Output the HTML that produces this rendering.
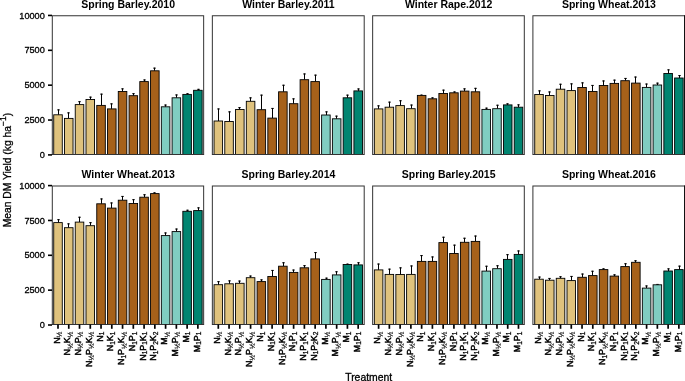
<!DOCTYPE html>
<html><head><meta charset="utf-8"><title>Mean DM Yield by Treatment</title>
<style>html,body{margin:0;padding:0;background:#fff;}svg{display:block;will-change:transform;}</style></head>
<body>
<svg width="685" height="381" viewBox="0 0 685 381" font-family="Liberation Sans, sans-serif">
<rect width="685" height="381" fill="#fff"/>
<text x="128.18" y="8.00" font-size="10.5" font-weight="bold" text-anchor="middle" fill="#000">Spring Barley.2010</text>
<line x1="58.50" x2="58.50" y1="114.80" y2="109.40" stroke="#000" stroke-width="1.05"/>
<line x1="57.30" x2="59.70" y1="109.85" y2="109.85" stroke="#000" stroke-width="1.1"/>
<rect x="53.73" y="114.80" width="8.55" height="39.70" fill="#DFC27D" stroke="#000" stroke-width="0.9"/>
<line x1="68.50" x2="68.50" y1="118.40" y2="112.40" stroke="#000" stroke-width="1.05"/>
<line x1="67.30" x2="69.70" y1="112.85" y2="112.85" stroke="#000" stroke-width="1.1"/>
<rect x="64.48" y="118.40" width="8.55" height="36.10" fill="#DFC27D" stroke="#000" stroke-width="0.9"/>
<line x1="79.50" x2="79.50" y1="104.60" y2="101.20" stroke="#000" stroke-width="1.05"/>
<line x1="78.30" x2="80.70" y1="101.65" y2="101.65" stroke="#000" stroke-width="1.1"/>
<rect x="75.24" y="104.60" width="8.55" height="49.90" fill="#DFC27D" stroke="#000" stroke-width="0.9"/>
<line x1="90.50" x2="90.50" y1="99.50" y2="96.70" stroke="#000" stroke-width="1.05"/>
<line x1="89.30" x2="91.70" y1="97.15" y2="97.15" stroke="#000" stroke-width="1.1"/>
<rect x="86.00" y="99.50" width="8.55" height="55.00" fill="#DFC27D" stroke="#000" stroke-width="0.9"/>
<line x1="101.50" x2="101.50" y1="105.40" y2="93.70" stroke="#000" stroke-width="1.05"/>
<line x1="100.30" x2="102.70" y1="94.15" y2="94.15" stroke="#000" stroke-width="1.1"/>
<rect x="96.76" y="105.40" width="8.55" height="49.10" fill="#A6611A" stroke="#000" stroke-width="0.9"/>
<line x1="111.50" x2="111.50" y1="108.90" y2="103.40" stroke="#000" stroke-width="1.05"/>
<line x1="110.30" x2="112.70" y1="103.85" y2="103.85" stroke="#000" stroke-width="1.1"/>
<rect x="107.52" y="108.90" width="8.55" height="45.60" fill="#A6611A" stroke="#000" stroke-width="0.9"/>
<line x1="122.50" x2="122.50" y1="91.50" y2="88.40" stroke="#000" stroke-width="1.05"/>
<line x1="121.30" x2="123.70" y1="88.85" y2="88.85" stroke="#000" stroke-width="1.1"/>
<rect x="118.28" y="91.50" width="8.55" height="63.00" fill="#A6611A" stroke="#000" stroke-width="0.9"/>
<line x1="133.50" x2="133.50" y1="95.70" y2="93.20" stroke="#000" stroke-width="1.05"/>
<line x1="132.30" x2="134.70" y1="93.65" y2="93.65" stroke="#000" stroke-width="1.1"/>
<rect x="129.04" y="95.70" width="8.55" height="58.80" fill="#A6611A" stroke="#000" stroke-width="0.9"/>
<line x1="144.50" x2="144.50" y1="81.60" y2="79.50" stroke="#000" stroke-width="1.05"/>
<line x1="143.30" x2="145.70" y1="79.95" y2="79.95" stroke="#000" stroke-width="1.1"/>
<rect x="139.80" y="81.60" width="8.55" height="72.90" fill="#A6611A" stroke="#000" stroke-width="0.9"/>
<line x1="154.50" x2="154.50" y1="70.80" y2="67.70" stroke="#000" stroke-width="1.05"/>
<line x1="153.30" x2="155.70" y1="68.15" y2="68.15" stroke="#000" stroke-width="1.1"/>
<rect x="150.56" y="70.80" width="8.55" height="83.70" fill="#A6611A" stroke="#000" stroke-width="0.9"/>
<line x1="165.50" x2="165.50" y1="106.80" y2="104.60" stroke="#000" stroke-width="1.05"/>
<line x1="164.30" x2="166.70" y1="105.05" y2="105.05" stroke="#000" stroke-width="1.1"/>
<rect x="161.32" y="106.80" width="8.55" height="47.70" fill="#80CDC1" stroke="#000" stroke-width="0.9"/>
<line x1="176.50" x2="176.50" y1="97.80" y2="94.50" stroke="#000" stroke-width="1.05"/>
<line x1="175.30" x2="177.70" y1="94.95" y2="94.95" stroke="#000" stroke-width="1.1"/>
<rect x="172.09" y="97.80" width="8.55" height="56.70" fill="#80CDC1" stroke="#000" stroke-width="0.9"/>
<line x1="187.50" x2="187.50" y1="94.40" y2="93.30" stroke="#000" stroke-width="1.05"/>
<line x1="186.30" x2="188.70" y1="93.75" y2="93.75" stroke="#000" stroke-width="1.1"/>
<rect x="182.84" y="94.40" width="8.55" height="60.10" fill="#018571" stroke="#000" stroke-width="0.9"/>
<line x1="198.50" x2="198.50" y1="90.30" y2="88.90" stroke="#000" stroke-width="1.05"/>
<line x1="197.30" x2="199.70" y1="89.35" y2="89.35" stroke="#000" stroke-width="1.1"/>
<rect x="193.60" y="90.30" width="8.55" height="64.20" fill="#018571" stroke="#000" stroke-width="0.9"/>
<rect x="52.30" y="15.75" width="151.35" height="138.75" fill="none" stroke="#333" stroke-width="1.0"/>
<line x1="48.00" x2="52.00" y1="154.90" y2="154.90" stroke="#000" stroke-width="1.6"/>
<text x="44.85" y="158.00" font-size="9.2" text-anchor="end" fill="#000" stroke="#000" stroke-width="0.3">0</text>
<line x1="48.00" x2="52.00" y1="120.04" y2="120.04" stroke="#000" stroke-width="1.6"/>
<text x="44.85" y="123.14" font-size="9.2" text-anchor="end" fill="#000" stroke="#000" stroke-width="0.3">2500</text>
<line x1="48.00" x2="52.00" y1="85.17" y2="85.17" stroke="#000" stroke-width="1.6"/>
<text x="44.85" y="88.27" font-size="9.2" text-anchor="end" fill="#000" stroke="#000" stroke-width="0.3">5000</text>
<line x1="48.00" x2="52.00" y1="50.31" y2="50.31" stroke="#000" stroke-width="1.6"/>
<text x="44.85" y="53.41" font-size="9.2" text-anchor="end" fill="#000" stroke="#000" stroke-width="0.3">7500</text>
<line x1="48.00" x2="52.00" y1="15.45" y2="15.45" stroke="#000" stroke-width="1.6"/>
<text x="44.85" y="18.55" font-size="9.2" text-anchor="end" fill="#000" stroke="#000" stroke-width="0.3">10000</text>
<text x="288.47" y="8.00" font-size="10.5" font-weight="bold" text-anchor="middle" fill="#000">Winter Barley.2011</text>
<line x1="218.50" x2="218.50" y1="121.00" y2="108.50" stroke="#000" stroke-width="1.05"/>
<line x1="217.30" x2="219.70" y1="108.95" y2="108.95" stroke="#000" stroke-width="1.1"/>
<rect x="214.03" y="121.00" width="8.55" height="33.50" fill="#DFC27D" stroke="#000" stroke-width="0.9"/>
<line x1="229.50" x2="229.50" y1="121.50" y2="111.40" stroke="#000" stroke-width="1.05"/>
<line x1="228.30" x2="230.70" y1="111.85" y2="111.85" stroke="#000" stroke-width="1.1"/>
<rect x="224.78" y="121.50" width="8.55" height="33.00" fill="#DFC27D" stroke="#000" stroke-width="0.9"/>
<line x1="239.50" x2="239.50" y1="109.50" y2="107.20" stroke="#000" stroke-width="1.05"/>
<line x1="238.30" x2="240.70" y1="107.65" y2="107.65" stroke="#000" stroke-width="1.1"/>
<rect x="235.55" y="109.50" width="8.55" height="45.00" fill="#DFC27D" stroke="#000" stroke-width="0.9"/>
<line x1="250.50" x2="250.50" y1="101.30" y2="97.40" stroke="#000" stroke-width="1.05"/>
<line x1="249.30" x2="251.70" y1="97.85" y2="97.85" stroke="#000" stroke-width="1.1"/>
<rect x="246.31" y="101.30" width="8.55" height="53.20" fill="#DFC27D" stroke="#000" stroke-width="0.9"/>
<line x1="261.50" x2="261.50" y1="109.70" y2="94.70" stroke="#000" stroke-width="1.05"/>
<line x1="260.30" x2="262.70" y1="95.15" y2="95.15" stroke="#000" stroke-width="1.1"/>
<rect x="257.07" y="109.70" width="8.55" height="44.80" fill="#A6611A" stroke="#000" stroke-width="0.9"/>
<line x1="272.50" x2="272.50" y1="118.10" y2="108.00" stroke="#000" stroke-width="1.05"/>
<line x1="271.30" x2="273.70" y1="108.45" y2="108.45" stroke="#000" stroke-width="1.1"/>
<rect x="267.83" y="118.10" width="8.55" height="36.40" fill="#A6611A" stroke="#000" stroke-width="0.9"/>
<line x1="283.50" x2="283.50" y1="91.80" y2="84.80" stroke="#000" stroke-width="1.05"/>
<line x1="282.30" x2="284.70" y1="85.25" y2="85.25" stroke="#000" stroke-width="1.1"/>
<rect x="278.59" y="91.80" width="8.55" height="62.70" fill="#A6611A" stroke="#000" stroke-width="0.9"/>
<line x1="293.50" x2="293.50" y1="103.70" y2="98.40" stroke="#000" stroke-width="1.05"/>
<line x1="292.30" x2="294.70" y1="98.85" y2="98.85" stroke="#000" stroke-width="1.1"/>
<rect x="289.35" y="103.70" width="8.55" height="50.80" fill="#A6611A" stroke="#000" stroke-width="0.9"/>
<line x1="304.50" x2="304.50" y1="79.70" y2="73.50" stroke="#000" stroke-width="1.05"/>
<line x1="303.30" x2="305.70" y1="73.95" y2="73.95" stroke="#000" stroke-width="1.1"/>
<rect x="300.11" y="79.70" width="8.55" height="74.80" fill="#A6611A" stroke="#000" stroke-width="0.9"/>
<line x1="315.50" x2="315.50" y1="81.60" y2="74.70" stroke="#000" stroke-width="1.05"/>
<line x1="314.30" x2="316.70" y1="75.15" y2="75.15" stroke="#000" stroke-width="1.1"/>
<rect x="310.87" y="81.60" width="8.55" height="72.90" fill="#A6611A" stroke="#000" stroke-width="0.9"/>
<line x1="326.50" x2="326.50" y1="115.00" y2="111.40" stroke="#000" stroke-width="1.05"/>
<line x1="325.30" x2="327.70" y1="111.85" y2="111.85" stroke="#000" stroke-width="1.1"/>
<rect x="321.62" y="115.00" width="8.55" height="39.50" fill="#80CDC1" stroke="#000" stroke-width="0.9"/>
<line x1="336.50" x2="336.50" y1="118.80" y2="115.70" stroke="#000" stroke-width="1.05"/>
<line x1="335.30" x2="337.70" y1="116.15" y2="116.15" stroke="#000" stroke-width="1.1"/>
<rect x="332.39" y="118.80" width="8.55" height="35.70" fill="#80CDC1" stroke="#000" stroke-width="0.9"/>
<line x1="347.50" x2="347.50" y1="97.80" y2="94.70" stroke="#000" stroke-width="1.05"/>
<line x1="346.30" x2="348.70" y1="95.15" y2="95.15" stroke="#000" stroke-width="1.1"/>
<rect x="343.15" y="97.80" width="8.55" height="56.70" fill="#018571" stroke="#000" stroke-width="0.9"/>
<line x1="358.50" x2="358.50" y1="90.90" y2="88.50" stroke="#000" stroke-width="1.05"/>
<line x1="357.30" x2="359.70" y1="88.95" y2="88.95" stroke="#000" stroke-width="1.1"/>
<rect x="353.91" y="90.90" width="8.55" height="63.60" fill="#018571" stroke="#000" stroke-width="0.9"/>
<rect x="212.35" y="15.75" width="151.85" height="138.75" fill="none" stroke="#333" stroke-width="1.0"/>
<text x="448.67" y="8.00" font-size="10.5" font-weight="bold" text-anchor="middle" fill="#000">Winter Rape.2012</text>
<line x1="378.50" x2="378.50" y1="108.90" y2="105.40" stroke="#000" stroke-width="1.05"/>
<line x1="377.30" x2="379.70" y1="105.85" y2="105.85" stroke="#000" stroke-width="1.1"/>
<rect x="374.33" y="108.90" width="8.55" height="45.60" fill="#DFC27D" stroke="#000" stroke-width="0.9"/>
<line x1="389.50" x2="389.50" y1="107.20" y2="101.70" stroke="#000" stroke-width="1.05"/>
<line x1="388.30" x2="390.70" y1="102.15" y2="102.15" stroke="#000" stroke-width="1.1"/>
<rect x="385.09" y="107.20" width="8.55" height="47.30" fill="#DFC27D" stroke="#000" stroke-width="0.9"/>
<line x1="400.50" x2="400.50" y1="105.60" y2="100.30" stroke="#000" stroke-width="1.05"/>
<line x1="399.30" x2="401.70" y1="100.75" y2="100.75" stroke="#000" stroke-width="1.1"/>
<rect x="395.85" y="105.60" width="8.55" height="48.90" fill="#DFC27D" stroke="#000" stroke-width="0.9"/>
<line x1="411.50" x2="411.50" y1="108.70" y2="104.60" stroke="#000" stroke-width="1.05"/>
<line x1="410.30" x2="412.70" y1="105.05" y2="105.05" stroke="#000" stroke-width="1.1"/>
<rect x="406.61" y="108.70" width="8.55" height="45.80" fill="#DFC27D" stroke="#000" stroke-width="0.9"/>
<line x1="421.50" x2="421.50" y1="95.40" y2="94.70" stroke="#000" stroke-width="1.05"/>
<line x1="420.30" x2="422.70" y1="95.15" y2="95.15" stroke="#000" stroke-width="1.1"/>
<rect x="417.37" y="95.40" width="8.55" height="59.10" fill="#A6611A" stroke="#000" stroke-width="0.9"/>
<line x1="432.50" x2="432.50" y1="98.80" y2="97.40" stroke="#000" stroke-width="1.05"/>
<line x1="431.30" x2="433.70" y1="97.85" y2="97.85" stroke="#000" stroke-width="1.1"/>
<rect x="428.13" y="98.80" width="8.55" height="55.70" fill="#A6611A" stroke="#000" stroke-width="0.9"/>
<line x1="443.50" x2="443.50" y1="93.50" y2="89.70" stroke="#000" stroke-width="1.05"/>
<line x1="442.30" x2="444.70" y1="90.15" y2="90.15" stroke="#000" stroke-width="1.1"/>
<rect x="438.89" y="93.50" width="8.55" height="61.00" fill="#A6611A" stroke="#000" stroke-width="0.9"/>
<line x1="454.50" x2="454.50" y1="92.80" y2="91.50" stroke="#000" stroke-width="1.05"/>
<line x1="453.30" x2="455.70" y1="91.95" y2="91.95" stroke="#000" stroke-width="1.1"/>
<rect x="449.65" y="92.80" width="8.55" height="61.70" fill="#A6611A" stroke="#000" stroke-width="0.9"/>
<line x1="464.50" x2="464.50" y1="91.10" y2="88.40" stroke="#000" stroke-width="1.05"/>
<line x1="463.30" x2="465.70" y1="88.85" y2="88.85" stroke="#000" stroke-width="1.1"/>
<rect x="460.41" y="91.10" width="8.55" height="63.40" fill="#A6611A" stroke="#000" stroke-width="0.9"/>
<line x1="475.50" x2="475.50" y1="91.80" y2="87.90" stroke="#000" stroke-width="1.05"/>
<line x1="474.30" x2="476.70" y1="88.35" y2="88.35" stroke="#000" stroke-width="1.1"/>
<rect x="471.17" y="91.80" width="8.55" height="62.70" fill="#A6611A" stroke="#000" stroke-width="0.9"/>
<line x1="486.50" x2="486.50" y1="109.40" y2="107.70" stroke="#000" stroke-width="1.05"/>
<line x1="485.30" x2="487.70" y1="108.15" y2="108.15" stroke="#000" stroke-width="1.1"/>
<rect x="481.93" y="109.40" width="8.55" height="45.10" fill="#80CDC1" stroke="#000" stroke-width="0.9"/>
<line x1="497.50" x2="497.50" y1="108.70" y2="104.80" stroke="#000" stroke-width="1.05"/>
<line x1="496.30" x2="498.70" y1="105.25" y2="105.25" stroke="#000" stroke-width="1.1"/>
<rect x="492.69" y="108.70" width="8.55" height="45.80" fill="#80CDC1" stroke="#000" stroke-width="0.9"/>
<line x1="507.50" x2="507.50" y1="104.90" y2="103.40" stroke="#000" stroke-width="1.05"/>
<line x1="506.30" x2="508.70" y1="103.85" y2="103.85" stroke="#000" stroke-width="1.1"/>
<rect x="503.45" y="104.90" width="8.55" height="49.60" fill="#018571" stroke="#000" stroke-width="0.9"/>
<line x1="518.50" x2="518.50" y1="107.20" y2="104.40" stroke="#000" stroke-width="1.05"/>
<line x1="517.30" x2="519.70" y1="104.85" y2="104.85" stroke="#000" stroke-width="1.1"/>
<rect x="514.21" y="107.20" width="8.55" height="47.30" fill="#018571" stroke="#000" stroke-width="0.9"/>
<rect x="372.65" y="15.75" width="151.65" height="138.75" fill="none" stroke="#333" stroke-width="1.0"/>
<text x="608.90" y="8.00" font-size="10.5" font-weight="bold" text-anchor="middle" fill="#000">Spring Wheat.2013</text>
<line x1="539.50" x2="539.50" y1="94.50" y2="90.40" stroke="#000" stroke-width="1.05"/>
<line x1="538.30" x2="540.70" y1="90.85" y2="90.85" stroke="#000" stroke-width="1.1"/>
<rect x="534.73" y="94.50" width="8.55" height="60.00" fill="#DFC27D" stroke="#000" stroke-width="0.9"/>
<line x1="549.50" x2="549.50" y1="95.50" y2="91.50" stroke="#000" stroke-width="1.05"/>
<line x1="548.30" x2="550.70" y1="91.95" y2="91.95" stroke="#000" stroke-width="1.1"/>
<rect x="545.49" y="95.50" width="8.55" height="59.00" fill="#DFC27D" stroke="#000" stroke-width="0.9"/>
<line x1="560.50" x2="560.50" y1="89.20" y2="83.80" stroke="#000" stroke-width="1.05"/>
<line x1="559.30" x2="561.70" y1="84.25" y2="84.25" stroke="#000" stroke-width="1.1"/>
<rect x="556.25" y="89.20" width="8.55" height="65.30" fill="#DFC27D" stroke="#000" stroke-width="0.9"/>
<line x1="571.50" x2="571.50" y1="90.60" y2="83.40" stroke="#000" stroke-width="1.05"/>
<line x1="570.30" x2="572.70" y1="83.85" y2="83.85" stroke="#000" stroke-width="1.1"/>
<rect x="567.00" y="90.60" width="8.55" height="63.90" fill="#DFC27D" stroke="#000" stroke-width="0.9"/>
<line x1="582.50" x2="582.50" y1="87.50" y2="82.40" stroke="#000" stroke-width="1.05"/>
<line x1="581.30" x2="583.70" y1="82.85" y2="82.85" stroke="#000" stroke-width="1.1"/>
<rect x="577.76" y="87.50" width="8.55" height="67.00" fill="#A6611A" stroke="#000" stroke-width="0.9"/>
<line x1="592.50" x2="592.50" y1="91.50" y2="85.00" stroke="#000" stroke-width="1.05"/>
<line x1="591.30" x2="593.70" y1="85.45" y2="85.45" stroke="#000" stroke-width="1.1"/>
<rect x="588.52" y="91.50" width="8.55" height="63.00" fill="#A6611A" stroke="#000" stroke-width="0.9"/>
<line x1="603.50" x2="603.50" y1="85.50" y2="80.50" stroke="#000" stroke-width="1.05"/>
<line x1="602.30" x2="604.70" y1="80.95" y2="80.95" stroke="#000" stroke-width="1.1"/>
<rect x="599.28" y="85.50" width="8.55" height="69.00" fill="#A6611A" stroke="#000" stroke-width="0.9"/>
<line x1="614.50" x2="614.50" y1="83.40" y2="79.70" stroke="#000" stroke-width="1.05"/>
<line x1="613.30" x2="615.70" y1="80.15" y2="80.15" stroke="#000" stroke-width="1.1"/>
<rect x="610.04" y="83.40" width="8.55" height="71.10" fill="#A6611A" stroke="#000" stroke-width="0.9"/>
<line x1="625.50" x2="625.50" y1="80.70" y2="78.00" stroke="#000" stroke-width="1.05"/>
<line x1="624.30" x2="626.70" y1="78.45" y2="78.45" stroke="#000" stroke-width="1.1"/>
<rect x="620.81" y="80.70" width="8.55" height="73.80" fill="#A6611A" stroke="#000" stroke-width="0.9"/>
<line x1="635.50" x2="635.50" y1="83.10" y2="76.60" stroke="#000" stroke-width="1.05"/>
<line x1="634.30" x2="636.70" y1="77.05" y2="77.05" stroke="#000" stroke-width="1.1"/>
<rect x="631.57" y="83.10" width="8.55" height="71.40" fill="#A6611A" stroke="#000" stroke-width="0.9"/>
<line x1="646.50" x2="646.50" y1="87.40" y2="83.60" stroke="#000" stroke-width="1.05"/>
<line x1="645.30" x2="647.70" y1="84.05" y2="84.05" stroke="#000" stroke-width="1.1"/>
<rect x="642.33" y="87.40" width="8.55" height="67.10" fill="#80CDC1" stroke="#000" stroke-width="0.9"/>
<line x1="657.50" x2="657.50" y1="85.00" y2="82.70" stroke="#000" stroke-width="1.05"/>
<line x1="656.30" x2="658.70" y1="83.15" y2="83.15" stroke="#000" stroke-width="1.1"/>
<rect x="653.09" y="85.00" width="8.55" height="69.50" fill="#80CDC1" stroke="#000" stroke-width="0.9"/>
<line x1="668.50" x2="668.50" y1="73.50" y2="69.40" stroke="#000" stroke-width="1.05"/>
<line x1="667.30" x2="669.70" y1="69.85" y2="69.85" stroke="#000" stroke-width="1.1"/>
<rect x="663.85" y="73.50" width="8.55" height="81.00" fill="#018571" stroke="#000" stroke-width="0.9"/>
<line x1="679.50" x2="679.50" y1="78.00" y2="75.10" stroke="#000" stroke-width="1.05"/>
<line x1="678.30" x2="680.70" y1="75.55" y2="75.55" stroke="#000" stroke-width="1.1"/>
<rect x="674.61" y="78.00" width="8.55" height="76.50" fill="#018571" stroke="#000" stroke-width="0.9"/>
<rect x="532.90" y="15.75" width="151.60" height="138.75" fill="none" stroke="#333" stroke-width="1.0"/>
<line x1="684.5" x2="684.5" y1="15.25" y2="155.00" stroke="#111" stroke-width="1"/>
<text x="128.18" y="178.20" font-size="10.5" font-weight="bold" text-anchor="middle" fill="#000">Winter Wheat.2013</text>
<line x1="58.50" x2="58.50" y1="222.60" y2="219.20" stroke="#000" stroke-width="1.05"/>
<line x1="57.30" x2="59.70" y1="219.65" y2="219.65" stroke="#000" stroke-width="1.1"/>
<rect x="53.73" y="222.60" width="8.55" height="101.90" fill="#DFC27D" stroke="#000" stroke-width="0.9"/>
<line x1="68.50" x2="68.50" y1="227.70" y2="223.40" stroke="#000" stroke-width="1.05"/>
<line x1="67.30" x2="69.70" y1="223.85" y2="223.85" stroke="#000" stroke-width="1.1"/>
<rect x="64.48" y="227.70" width="8.55" height="96.80" fill="#DFC27D" stroke="#000" stroke-width="0.9"/>
<line x1="79.50" x2="79.50" y1="222.10" y2="216.80" stroke="#000" stroke-width="1.05"/>
<line x1="78.30" x2="80.70" y1="217.25" y2="217.25" stroke="#000" stroke-width="1.1"/>
<rect x="75.24" y="222.10" width="8.55" height="102.40" fill="#DFC27D" stroke="#000" stroke-width="0.9"/>
<line x1="90.50" x2="90.50" y1="225.70" y2="222.20" stroke="#000" stroke-width="1.05"/>
<line x1="89.30" x2="91.70" y1="222.65" y2="222.65" stroke="#000" stroke-width="1.1"/>
<rect x="86.00" y="225.70" width="8.55" height="98.80" fill="#DFC27D" stroke="#000" stroke-width="0.9"/>
<line x1="101.50" x2="101.50" y1="203.80" y2="198.50" stroke="#000" stroke-width="1.05"/>
<line x1="100.30" x2="102.70" y1="198.95" y2="198.95" stroke="#000" stroke-width="1.1"/>
<rect x="96.76" y="203.80" width="8.55" height="120.70" fill="#A6611A" stroke="#000" stroke-width="0.9"/>
<line x1="111.50" x2="111.50" y1="208.10" y2="202.50" stroke="#000" stroke-width="1.05"/>
<line x1="110.30" x2="112.70" y1="202.95" y2="202.95" stroke="#000" stroke-width="1.1"/>
<rect x="107.52" y="208.10" width="8.55" height="116.40" fill="#A6611A" stroke="#000" stroke-width="0.9"/>
<line x1="122.50" x2="122.50" y1="200.20" y2="196.00" stroke="#000" stroke-width="1.05"/>
<line x1="121.30" x2="123.70" y1="196.45" y2="196.45" stroke="#000" stroke-width="1.1"/>
<rect x="118.28" y="200.20" width="8.55" height="124.30" fill="#A6611A" stroke="#000" stroke-width="0.9"/>
<line x1="133.50" x2="133.50" y1="203.50" y2="199.20" stroke="#000" stroke-width="1.05"/>
<line x1="132.30" x2="134.70" y1="199.65" y2="199.65" stroke="#000" stroke-width="1.1"/>
<rect x="129.04" y="203.50" width="8.55" height="121.00" fill="#A6611A" stroke="#000" stroke-width="0.9"/>
<line x1="144.50" x2="144.50" y1="197.20" y2="194.30" stroke="#000" stroke-width="1.05"/>
<line x1="143.30" x2="145.70" y1="194.75" y2="194.75" stroke="#000" stroke-width="1.1"/>
<rect x="139.80" y="197.20" width="8.55" height="127.30" fill="#A6611A" stroke="#000" stroke-width="0.9"/>
<line x1="154.50" x2="154.50" y1="193.60" y2="192.40" stroke="#000" stroke-width="1.05"/>
<line x1="153.30" x2="155.70" y1="192.85" y2="192.85" stroke="#000" stroke-width="1.1"/>
<rect x="150.56" y="193.60" width="8.55" height="130.90" fill="#A6611A" stroke="#000" stroke-width="0.9"/>
<line x1="165.50" x2="165.50" y1="235.60" y2="232.50" stroke="#000" stroke-width="1.05"/>
<line x1="164.30" x2="166.70" y1="232.95" y2="232.95" stroke="#000" stroke-width="1.1"/>
<rect x="161.32" y="235.60" width="8.55" height="88.90" fill="#80CDC1" stroke="#000" stroke-width="0.9"/>
<line x1="176.50" x2="176.50" y1="231.60" y2="228.60" stroke="#000" stroke-width="1.05"/>
<line x1="175.30" x2="177.70" y1="229.05" y2="229.05" stroke="#000" stroke-width="1.1"/>
<rect x="172.09" y="231.60" width="8.55" height="92.90" fill="#80CDC1" stroke="#000" stroke-width="0.9"/>
<line x1="187.50" x2="187.50" y1="211.30" y2="209.80" stroke="#000" stroke-width="1.05"/>
<line x1="186.30" x2="188.70" y1="210.25" y2="210.25" stroke="#000" stroke-width="1.1"/>
<rect x="182.84" y="211.30" width="8.55" height="113.20" fill="#018571" stroke="#000" stroke-width="0.9"/>
<line x1="198.50" x2="198.50" y1="210.60" y2="207.40" stroke="#000" stroke-width="1.05"/>
<line x1="197.30" x2="199.70" y1="207.85" y2="207.85" stroke="#000" stroke-width="1.1"/>
<rect x="193.60" y="210.60" width="8.55" height="113.90" fill="#018571" stroke="#000" stroke-width="0.9"/>
<rect x="52.30" y="186.00" width="151.35" height="138.50" fill="none" stroke="#333" stroke-width="1.0"/>
<line x1="48.00" x2="52.00" y1="325.00" y2="325.00" stroke="#000" stroke-width="1.6"/>
<text x="44.85" y="328.10" font-size="9.2" text-anchor="end" fill="#000" stroke="#000" stroke-width="0.3">0</text>
<line x1="48.00" x2="52.00" y1="290.15" y2="290.15" stroke="#000" stroke-width="1.6"/>
<text x="44.85" y="293.25" font-size="9.2" text-anchor="end" fill="#000" stroke="#000" stroke-width="0.3">2500</text>
<line x1="48.00" x2="52.00" y1="255.30" y2="255.30" stroke="#000" stroke-width="1.6"/>
<text x="44.85" y="258.40" font-size="9.2" text-anchor="end" fill="#000" stroke="#000" stroke-width="0.3">5000</text>
<line x1="48.00" x2="52.00" y1="220.45" y2="220.45" stroke="#000" stroke-width="1.6"/>
<text x="44.85" y="223.55" font-size="9.2" text-anchor="end" fill="#000" stroke="#000" stroke-width="0.3">7500</text>
<line x1="48.00" x2="52.00" y1="185.60" y2="185.60" stroke="#000" stroke-width="1.6"/>
<text x="44.85" y="188.70" font-size="9.2" text-anchor="end" fill="#000" stroke="#000" stroke-width="0.3">10000</text>
<line x1="58.00" x2="58.00" y1="324.50" y2="328.80" stroke="#000" stroke-width="1.7"/>
<text transform="translate(59.65,331.60) rotate(-90)" font-size="8.8" font-weight="normal" text-anchor="end" fill="#000" stroke="#000" stroke-width="0.5">N<tspan stroke-width="0.12" font-size="6.95" dy="2.3">½</tspan><tspan dy="-2.3" font-size="1">​</tspan></text>
<line x1="68.76" x2="68.76" y1="324.50" y2="328.80" stroke="#000" stroke-width="1.7"/>
<text transform="translate(70.41,331.60) rotate(-90)" font-size="8.8" font-weight="normal" text-anchor="end" fill="#000" stroke="#000" stroke-width="0.5">N<tspan stroke-width="0.12" font-size="6.95" dy="2.3">½</tspan><tspan dy="-2.3" font-size="1">​</tspan>K<tspan stroke-width="0.12" font-size="6.95" dy="2.3">½</tspan><tspan dy="-2.3" font-size="1">​</tspan></text>
<line x1="79.52" x2="79.52" y1="324.50" y2="328.80" stroke="#000" stroke-width="1.7"/>
<text transform="translate(81.17,331.60) rotate(-90)" font-size="8.8" font-weight="normal" text-anchor="end" fill="#000" stroke="#000" stroke-width="0.5">N<tspan stroke-width="0.12" font-size="6.95" dy="2.3">½</tspan><tspan dy="-2.3" font-size="1">​</tspan>P<tspan stroke-width="0.12" font-size="6.95" dy="2.3">½</tspan><tspan dy="-2.3" font-size="1">​</tspan></text>
<line x1="90.28" x2="90.28" y1="324.50" y2="328.80" stroke="#000" stroke-width="1.7"/>
<text transform="translate(91.93,331.60) rotate(-90)" font-size="8.8" font-weight="normal" text-anchor="end" fill="#000" stroke="#000" stroke-width="0.5">N<tspan stroke-width="0.12" font-size="6.95" dy="2.3">½</tspan><tspan dy="-2.3" font-size="1">​</tspan>P<tspan stroke-width="0.12" font-size="6.95" dy="2.3">½</tspan><tspan dy="-2.3" font-size="1">​</tspan>K<tspan stroke-width="0.12" font-size="6.95" dy="2.3">½</tspan><tspan dy="-2.3" font-size="1">​</tspan></text>
<line x1="101.04" x2="101.04" y1="324.50" y2="328.80" stroke="#000" stroke-width="1.7"/>
<text transform="translate(102.69,331.60) rotate(-90)" font-size="8.8" font-weight="normal" text-anchor="end" fill="#000" stroke="#000" stroke-width="0.5">N<tspan stroke-width="0.25" font-size="6.6" dy="1.6">1</tspan><tspan dy="-1.6" font-size="1">​</tspan></text>
<line x1="111.80" x2="111.80" y1="324.50" y2="328.80" stroke="#000" stroke-width="1.7"/>
<text transform="translate(113.45,331.60) rotate(-90)" font-size="8.8" font-weight="normal" text-anchor="end" fill="#000" stroke="#000" stroke-width="0.5">N<tspan stroke-width="0.25" font-size="6.6" dy="1.6">1</tspan><tspan dy="-1.6" font-size="1">​</tspan>K<tspan stroke-width="0.25" font-size="6.6" dy="1.6">1</tspan><tspan dy="-1.6" font-size="1">​</tspan></text>
<line x1="122.56" x2="122.56" y1="324.50" y2="328.80" stroke="#000" stroke-width="1.7"/>
<text transform="translate(124.21,331.60) rotate(-90)" font-size="8.8" font-weight="normal" text-anchor="end" fill="#000" stroke="#000" stroke-width="0.5">N<tspan stroke-width="0.25" font-size="6.6" dy="1.6">1</tspan><tspan dy="-1.6" font-size="1">​</tspan>P<tspan stroke-width="0.12" font-size="6.95" dy="2.3">½</tspan><tspan dy="-2.3" font-size="1">​</tspan>K<tspan stroke-width="0.12" font-size="6.95" dy="2.3">½</tspan><tspan dy="-2.3" font-size="1">​</tspan></text>
<line x1="133.32" x2="133.32" y1="324.50" y2="328.80" stroke="#000" stroke-width="1.7"/>
<text transform="translate(134.97,331.60) rotate(-90)" font-size="8.8" font-weight="normal" text-anchor="end" fill="#000" stroke="#000" stroke-width="0.5">N<tspan stroke-width="0.25" font-size="6.6" dy="1.6">1</tspan><tspan dy="-1.6" font-size="1">​</tspan>P<tspan stroke-width="0.25" font-size="6.6" dy="1.6">1</tspan><tspan dy="-1.6" font-size="1">​</tspan></text>
<line x1="144.08" x2="144.08" y1="324.50" y2="328.80" stroke="#000" stroke-width="1.7"/>
<text transform="translate(145.73,331.60) rotate(-90)" font-size="8.8" font-weight="normal" text-anchor="end" fill="#000" stroke="#000" stroke-width="0.5">N<tspan stroke-width="0.25" font-size="6.6" dy="1.6">1</tspan><tspan dy="-1.6" font-size="1">​</tspan>P<tspan stroke-width="0.25" font-size="6.6" dy="1.6">1</tspan><tspan dy="-1.6" font-size="1">​</tspan>K<tspan stroke-width="0.25" font-size="6.6" dy="1.6">1</tspan><tspan dy="-1.6" font-size="1">​</tspan></text>
<line x1="154.84" x2="154.84" y1="324.50" y2="328.80" stroke="#000" stroke-width="1.7"/>
<text transform="translate(156.49,331.60) rotate(-90)" font-size="8.8" font-weight="normal" text-anchor="end" fill="#000" stroke="#000" stroke-width="0.5">N<tspan stroke-width="0.25" font-size="6.6" dy="1.6">1</tspan><tspan dy="-1.6" font-size="1">​</tspan>P<tspan stroke-width="0.25" font-size="6.6" dy="1.6">2</tspan><tspan dy="-1.6" font-size="1">​</tspan>K<tspan stroke-width="0.25" font-size="6.6" dy="1.6">2</tspan><tspan dy="-1.6" font-size="1">​</tspan></text>
<line x1="165.60" x2="165.60" y1="324.50" y2="328.80" stroke="#000" stroke-width="1.7"/>
<text transform="translate(167.25,331.60) rotate(-90)" font-size="8.8" font-weight="normal" text-anchor="end" fill="#000" stroke="#000" stroke-width="0.5">M<tspan stroke-width="0.12" font-size="6.95" dy="2.3">½</tspan><tspan dy="-2.3" font-size="1">​</tspan></text>
<line x1="176.36" x2="176.36" y1="324.50" y2="328.80" stroke="#000" stroke-width="1.7"/>
<text transform="translate(178.01,331.60) rotate(-90)" font-size="8.8" font-weight="normal" text-anchor="end" fill="#000" stroke="#000" stroke-width="0.5">M<tspan stroke-width="0.12" font-size="6.95" dy="2.3">½</tspan><tspan dy="-2.3" font-size="1">​</tspan>P<tspan stroke-width="0.12" font-size="6.95" dy="2.3">½</tspan><tspan dy="-2.3" font-size="1">​</tspan></text>
<line x1="187.12" x2="187.12" y1="324.50" y2="328.80" stroke="#000" stroke-width="1.7"/>
<text transform="translate(188.77,331.60) rotate(-90)" font-size="8.8" font-weight="normal" text-anchor="end" fill="#000" stroke="#000" stroke-width="0.5">M<tspan stroke-width="0.25" font-size="6.6" dy="1.6">1</tspan><tspan dy="-1.6" font-size="1">​</tspan></text>
<line x1="197.88" x2="197.88" y1="324.50" y2="328.80" stroke="#000" stroke-width="1.7"/>
<text transform="translate(199.53,331.60) rotate(-90)" font-size="8.8" font-weight="normal" text-anchor="end" fill="#000" stroke="#000" stroke-width="0.5">M<tspan stroke-width="0.25" font-size="6.6" dy="1.6">1</tspan><tspan dy="-1.6" font-size="1">​</tspan>P<tspan stroke-width="0.25" font-size="6.6" dy="1.6">1</tspan><tspan dy="-1.6" font-size="1">​</tspan></text>
<text x="288.47" y="178.20" font-size="10.5" font-weight="bold" text-anchor="middle" fill="#000">Spring Barley.2014</text>
<line x1="218.50" x2="218.50" y1="284.70" y2="281.20" stroke="#000" stroke-width="1.05"/>
<line x1="217.30" x2="219.70" y1="281.65" y2="281.65" stroke="#000" stroke-width="1.1"/>
<rect x="214.03" y="284.70" width="8.55" height="39.80" fill="#DFC27D" stroke="#000" stroke-width="0.9"/>
<line x1="229.50" x2="229.50" y1="283.80" y2="280.40" stroke="#000" stroke-width="1.05"/>
<line x1="228.30" x2="230.70" y1="280.85" y2="280.85" stroke="#000" stroke-width="1.1"/>
<rect x="224.78" y="283.80" width="8.55" height="40.70" fill="#DFC27D" stroke="#000" stroke-width="0.9"/>
<line x1="239.50" x2="239.50" y1="283.30" y2="280.60" stroke="#000" stroke-width="1.05"/>
<line x1="238.30" x2="240.70" y1="281.05" y2="281.05" stroke="#000" stroke-width="1.1"/>
<rect x="235.55" y="283.30" width="8.55" height="41.20" fill="#DFC27D" stroke="#000" stroke-width="0.9"/>
<line x1="250.50" x2="250.50" y1="277.70" y2="275.60" stroke="#000" stroke-width="1.05"/>
<line x1="249.30" x2="251.70" y1="276.05" y2="276.05" stroke="#000" stroke-width="1.1"/>
<rect x="246.31" y="277.70" width="8.55" height="46.80" fill="#DFC27D" stroke="#000" stroke-width="0.9"/>
<line x1="261.50" x2="261.50" y1="281.60" y2="279.40" stroke="#000" stroke-width="1.05"/>
<line x1="260.30" x2="262.70" y1="279.85" y2="279.85" stroke="#000" stroke-width="1.1"/>
<rect x="257.07" y="281.60" width="8.55" height="42.90" fill="#A6611A" stroke="#000" stroke-width="0.9"/>
<line x1="272.50" x2="272.50" y1="276.50" y2="270.00" stroke="#000" stroke-width="1.05"/>
<line x1="271.30" x2="273.70" y1="270.45" y2="270.45" stroke="#000" stroke-width="1.1"/>
<rect x="267.83" y="276.50" width="8.55" height="48.00" fill="#A6611A" stroke="#000" stroke-width="0.9"/>
<line x1="283.50" x2="283.50" y1="266.20" y2="262.30" stroke="#000" stroke-width="1.05"/>
<line x1="282.30" x2="284.70" y1="262.75" y2="262.75" stroke="#000" stroke-width="1.1"/>
<rect x="278.59" y="266.20" width="8.55" height="58.30" fill="#A6611A" stroke="#000" stroke-width="0.9"/>
<line x1="293.50" x2="293.50" y1="272.40" y2="269.60" stroke="#000" stroke-width="1.05"/>
<line x1="292.30" x2="294.70" y1="270.05" y2="270.05" stroke="#000" stroke-width="1.1"/>
<rect x="289.35" y="272.40" width="8.55" height="52.10" fill="#A6611A" stroke="#000" stroke-width="0.9"/>
<line x1="304.50" x2="304.50" y1="267.80" y2="265.20" stroke="#000" stroke-width="1.05"/>
<line x1="303.30" x2="305.70" y1="265.65" y2="265.65" stroke="#000" stroke-width="1.1"/>
<rect x="300.11" y="267.80" width="8.55" height="56.70" fill="#A6611A" stroke="#000" stroke-width="0.9"/>
<line x1="315.50" x2="315.50" y1="258.90" y2="252.10" stroke="#000" stroke-width="1.05"/>
<line x1="314.30" x2="316.70" y1="252.55" y2="252.55" stroke="#000" stroke-width="1.1"/>
<rect x="310.87" y="258.90" width="8.55" height="65.60" fill="#A6611A" stroke="#000" stroke-width="0.9"/>
<line x1="326.50" x2="326.50" y1="279.40" y2="277.70" stroke="#000" stroke-width="1.05"/>
<line x1="325.30" x2="327.70" y1="278.15" y2="278.15" stroke="#000" stroke-width="1.1"/>
<rect x="321.62" y="279.40" width="8.55" height="45.10" fill="#80CDC1" stroke="#000" stroke-width="0.9"/>
<line x1="336.50" x2="336.50" y1="274.90" y2="271.30" stroke="#000" stroke-width="1.05"/>
<line x1="335.30" x2="337.70" y1="271.75" y2="271.75" stroke="#000" stroke-width="1.1"/>
<rect x="332.39" y="274.90" width="8.55" height="49.60" fill="#80CDC1" stroke="#000" stroke-width="0.9"/>
<line x1="347.50" x2="347.50" y1="264.50" y2="263.70" stroke="#000" stroke-width="1.05"/>
<line x1="346.30" x2="348.70" y1="264.15" y2="264.15" stroke="#000" stroke-width="1.1"/>
<rect x="343.15" y="264.50" width="8.55" height="60.00" fill="#018571" stroke="#000" stroke-width="0.9"/>
<line x1="358.50" x2="358.50" y1="264.90" y2="262.30" stroke="#000" stroke-width="1.05"/>
<line x1="357.30" x2="359.70" y1="262.75" y2="262.75" stroke="#000" stroke-width="1.1"/>
<rect x="353.91" y="264.90" width="8.55" height="59.60" fill="#018571" stroke="#000" stroke-width="0.9"/>
<rect x="212.35" y="186.00" width="151.85" height="138.50" fill="none" stroke="#333" stroke-width="1.0"/>
<line x1="218.30" x2="218.30" y1="324.50" y2="328.80" stroke="#000" stroke-width="1.7"/>
<text transform="translate(219.95,331.60) rotate(-90)" font-size="8.8" font-weight="normal" text-anchor="end" fill="#000" stroke="#000" stroke-width="0.5">N<tspan stroke-width="0.12" font-size="6.95" dy="2.3">½</tspan><tspan dy="-2.3" font-size="1">​</tspan></text>
<line x1="229.06" x2="229.06" y1="324.50" y2="328.80" stroke="#000" stroke-width="1.7"/>
<text transform="translate(230.71,331.60) rotate(-90)" font-size="8.8" font-weight="normal" text-anchor="end" fill="#000" stroke="#000" stroke-width="0.5">N<tspan stroke-width="0.12" font-size="6.95" dy="2.3">½</tspan><tspan dy="-2.3" font-size="1">​</tspan>K<tspan stroke-width="0.12" font-size="6.95" dy="2.3">½</tspan><tspan dy="-2.3" font-size="1">​</tspan></text>
<line x1="239.82" x2="239.82" y1="324.50" y2="328.80" stroke="#000" stroke-width="1.7"/>
<text transform="translate(241.47,331.60) rotate(-90)" font-size="8.8" font-weight="normal" text-anchor="end" fill="#000" stroke="#000" stroke-width="0.5">N<tspan stroke-width="0.12" font-size="6.95" dy="2.3">½</tspan><tspan dy="-2.3" font-size="1">​</tspan>P<tspan stroke-width="0.12" font-size="6.95" dy="2.3">½</tspan><tspan dy="-2.3" font-size="1">​</tspan></text>
<line x1="250.58" x2="250.58" y1="324.50" y2="328.80" stroke="#000" stroke-width="1.7"/>
<text transform="translate(252.23,331.60) rotate(-90)" font-size="8.8" font-weight="normal" text-anchor="end" fill="#000" stroke="#000" stroke-width="0.5">N<tspan stroke-width="0.12" font-size="6.95" dy="2.3">½</tspan><tspan dy="-2.3" font-size="1">​</tspan>P<tspan stroke-width="0.12" font-size="6.95" dy="2.3">½</tspan><tspan dy="-2.3" font-size="1">​</tspan>K<tspan stroke-width="0.12" font-size="6.95" dy="2.3">½</tspan><tspan dy="-2.3" font-size="1">​</tspan></text>
<line x1="261.34" x2="261.34" y1="324.50" y2="328.80" stroke="#000" stroke-width="1.7"/>
<text transform="translate(262.99,331.60) rotate(-90)" font-size="8.8" font-weight="normal" text-anchor="end" fill="#000" stroke="#000" stroke-width="0.5">N<tspan stroke-width="0.25" font-size="6.6" dy="1.6">1</tspan><tspan dy="-1.6" font-size="1">​</tspan></text>
<line x1="272.10" x2="272.10" y1="324.50" y2="328.80" stroke="#000" stroke-width="1.7"/>
<text transform="translate(273.75,331.60) rotate(-90)" font-size="8.8" font-weight="normal" text-anchor="end" fill="#000" stroke="#000" stroke-width="0.5">N<tspan stroke-width="0.25" font-size="6.6" dy="1.6">1</tspan><tspan dy="-1.6" font-size="1">​</tspan>K<tspan stroke-width="0.25" font-size="6.6" dy="1.6">1</tspan><tspan dy="-1.6" font-size="1">​</tspan></text>
<line x1="282.86" x2="282.86" y1="324.50" y2="328.80" stroke="#000" stroke-width="1.7"/>
<text transform="translate(284.51,331.60) rotate(-90)" font-size="8.8" font-weight="normal" text-anchor="end" fill="#000" stroke="#000" stroke-width="0.5">N<tspan stroke-width="0.25" font-size="6.6" dy="1.6">1</tspan><tspan dy="-1.6" font-size="1">​</tspan>P<tspan stroke-width="0.12" font-size="6.95" dy="2.3">½</tspan><tspan dy="-2.3" font-size="1">​</tspan>K<tspan stroke-width="0.12" font-size="6.95" dy="2.3">½</tspan><tspan dy="-2.3" font-size="1">​</tspan></text>
<line x1="293.62" x2="293.62" y1="324.50" y2="328.80" stroke="#000" stroke-width="1.7"/>
<text transform="translate(295.27,331.60) rotate(-90)" font-size="8.8" font-weight="normal" text-anchor="end" fill="#000" stroke="#000" stroke-width="0.5">N<tspan stroke-width="0.25" font-size="6.6" dy="1.6">1</tspan><tspan dy="-1.6" font-size="1">​</tspan>P<tspan stroke-width="0.25" font-size="6.6" dy="1.6">1</tspan><tspan dy="-1.6" font-size="1">​</tspan></text>
<line x1="304.38" x2="304.38" y1="324.50" y2="328.80" stroke="#000" stroke-width="1.7"/>
<text transform="translate(306.03,331.60) rotate(-90)" font-size="8.8" font-weight="normal" text-anchor="end" fill="#000" stroke="#000" stroke-width="0.5">N<tspan stroke-width="0.25" font-size="6.6" dy="1.6">1</tspan><tspan dy="-1.6" font-size="1">​</tspan>P<tspan stroke-width="0.25" font-size="6.6" dy="1.6">1</tspan><tspan dy="-1.6" font-size="1">​</tspan>K<tspan stroke-width="0.25" font-size="6.6" dy="1.6">1</tspan><tspan dy="-1.6" font-size="1">​</tspan></text>
<line x1="315.14" x2="315.14" y1="324.50" y2="328.80" stroke="#000" stroke-width="1.7"/>
<text transform="translate(316.79,331.60) rotate(-90)" font-size="8.8" font-weight="normal" text-anchor="end" fill="#000" stroke="#000" stroke-width="0.5">N<tspan stroke-width="0.25" font-size="6.6" dy="1.6">1</tspan><tspan dy="-1.6" font-size="1">​</tspan>P<tspan stroke-width="0.25" font-size="6.6" dy="1.6">2</tspan><tspan dy="-1.6" font-size="1">​</tspan>K<tspan stroke-width="0.25" font-size="6.6" dy="1.6">2</tspan><tspan dy="-1.6" font-size="1">​</tspan></text>
<line x1="325.90" x2="325.90" y1="324.50" y2="328.80" stroke="#000" stroke-width="1.7"/>
<text transform="translate(327.55,331.60) rotate(-90)" font-size="8.8" font-weight="normal" text-anchor="end" fill="#000" stroke="#000" stroke-width="0.5">M<tspan stroke-width="0.12" font-size="6.95" dy="2.3">½</tspan><tspan dy="-2.3" font-size="1">​</tspan></text>
<line x1="336.66" x2="336.66" y1="324.50" y2="328.80" stroke="#000" stroke-width="1.7"/>
<text transform="translate(338.31,331.60) rotate(-90)" font-size="8.8" font-weight="normal" text-anchor="end" fill="#000" stroke="#000" stroke-width="0.5">M<tspan stroke-width="0.12" font-size="6.95" dy="2.3">½</tspan><tspan dy="-2.3" font-size="1">​</tspan>P<tspan stroke-width="0.12" font-size="6.95" dy="2.3">½</tspan><tspan dy="-2.3" font-size="1">​</tspan></text>
<line x1="347.42" x2="347.42" y1="324.50" y2="328.80" stroke="#000" stroke-width="1.7"/>
<text transform="translate(349.07,331.60) rotate(-90)" font-size="8.8" font-weight="normal" text-anchor="end" fill="#000" stroke="#000" stroke-width="0.5">M<tspan stroke-width="0.25" font-size="6.6" dy="1.6">1</tspan><tspan dy="-1.6" font-size="1">​</tspan></text>
<line x1="358.18" x2="358.18" y1="324.50" y2="328.80" stroke="#000" stroke-width="1.7"/>
<text transform="translate(359.83,331.60) rotate(-90)" font-size="8.8" font-weight="normal" text-anchor="end" fill="#000" stroke="#000" stroke-width="0.5">M<tspan stroke-width="0.25" font-size="6.6" dy="1.6">1</tspan><tspan dy="-1.6" font-size="1">​</tspan>P<tspan stroke-width="0.25" font-size="6.6" dy="1.6">1</tspan><tspan dy="-1.6" font-size="1">​</tspan></text>
<text x="448.67" y="178.20" font-size="10.5" font-weight="bold" text-anchor="middle" fill="#000">Spring Barley.2015</text>
<line x1="378.50" x2="378.50" y1="269.90" y2="263.60" stroke="#000" stroke-width="1.05"/>
<line x1="377.30" x2="379.70" y1="264.05" y2="264.05" stroke="#000" stroke-width="1.1"/>
<rect x="374.33" y="269.90" width="8.55" height="54.60" fill="#DFC27D" stroke="#000" stroke-width="0.9"/>
<line x1="389.50" x2="389.50" y1="274.40" y2="268.70" stroke="#000" stroke-width="1.05"/>
<line x1="388.30" x2="390.70" y1="269.15" y2="269.15" stroke="#000" stroke-width="1.1"/>
<rect x="385.09" y="274.40" width="8.55" height="50.10" fill="#DFC27D" stroke="#000" stroke-width="0.9"/>
<line x1="400.50" x2="400.50" y1="274.50" y2="267.40" stroke="#000" stroke-width="1.05"/>
<line x1="399.30" x2="401.70" y1="267.85" y2="267.85" stroke="#000" stroke-width="1.1"/>
<rect x="395.85" y="274.50" width="8.55" height="50.00" fill="#DFC27D" stroke="#000" stroke-width="0.9"/>
<line x1="411.50" x2="411.50" y1="274.40" y2="265.50" stroke="#000" stroke-width="1.05"/>
<line x1="410.30" x2="412.70" y1="265.95" y2="265.95" stroke="#000" stroke-width="1.1"/>
<rect x="406.61" y="274.40" width="8.55" height="50.10" fill="#DFC27D" stroke="#000" stroke-width="0.9"/>
<line x1="421.50" x2="421.50" y1="261.40" y2="255.10" stroke="#000" stroke-width="1.05"/>
<line x1="420.30" x2="422.70" y1="255.55" y2="255.55" stroke="#000" stroke-width="1.1"/>
<rect x="417.37" y="261.40" width="8.55" height="63.10" fill="#A6611A" stroke="#000" stroke-width="0.9"/>
<line x1="432.50" x2="432.50" y1="261.40" y2="256.50" stroke="#000" stroke-width="1.05"/>
<line x1="431.30" x2="433.70" y1="256.95" y2="256.95" stroke="#000" stroke-width="1.1"/>
<rect x="428.13" y="261.40" width="8.55" height="63.10" fill="#A6611A" stroke="#000" stroke-width="0.9"/>
<line x1="443.50" x2="443.50" y1="242.60" y2="236.80" stroke="#000" stroke-width="1.05"/>
<line x1="442.30" x2="444.70" y1="237.25" y2="237.25" stroke="#000" stroke-width="1.1"/>
<rect x="438.89" y="242.60" width="8.55" height="81.90" fill="#A6611A" stroke="#000" stroke-width="0.9"/>
<line x1="454.50" x2="454.50" y1="253.50" y2="244.70" stroke="#000" stroke-width="1.05"/>
<line x1="453.30" x2="455.70" y1="245.15" y2="245.15" stroke="#000" stroke-width="1.1"/>
<rect x="449.65" y="253.50" width="8.55" height="71.00" fill="#A6611A" stroke="#000" stroke-width="0.9"/>
<line x1="464.50" x2="464.50" y1="242.30" y2="237.80" stroke="#000" stroke-width="1.05"/>
<line x1="463.30" x2="465.70" y1="238.25" y2="238.25" stroke="#000" stroke-width="1.1"/>
<rect x="460.41" y="242.30" width="8.55" height="82.20" fill="#A6611A" stroke="#000" stroke-width="0.9"/>
<line x1="475.50" x2="475.50" y1="241.40" y2="235.60" stroke="#000" stroke-width="1.05"/>
<line x1="474.30" x2="476.70" y1="236.05" y2="236.05" stroke="#000" stroke-width="1.1"/>
<rect x="471.17" y="241.40" width="8.55" height="83.10" fill="#A6611A" stroke="#000" stroke-width="0.9"/>
<line x1="486.50" x2="486.50" y1="271.10" y2="265.80" stroke="#000" stroke-width="1.05"/>
<line x1="485.30" x2="487.70" y1="266.25" y2="266.25" stroke="#000" stroke-width="1.1"/>
<rect x="481.93" y="271.10" width="8.55" height="53.40" fill="#80CDC1" stroke="#000" stroke-width="0.9"/>
<line x1="497.50" x2="497.50" y1="268.70" y2="265.30" stroke="#000" stroke-width="1.05"/>
<line x1="496.30" x2="498.70" y1="265.75" y2="265.75" stroke="#000" stroke-width="1.1"/>
<rect x="492.69" y="268.70" width="8.55" height="55.80" fill="#80CDC1" stroke="#000" stroke-width="0.9"/>
<line x1="507.50" x2="507.50" y1="259.40" y2="254.20" stroke="#000" stroke-width="1.05"/>
<line x1="506.30" x2="508.70" y1="254.65" y2="254.65" stroke="#000" stroke-width="1.1"/>
<rect x="503.45" y="259.40" width="8.55" height="65.10" fill="#018571" stroke="#000" stroke-width="0.9"/>
<line x1="518.50" x2="518.50" y1="254.40" y2="250.50" stroke="#000" stroke-width="1.05"/>
<line x1="517.30" x2="519.70" y1="250.95" y2="250.95" stroke="#000" stroke-width="1.1"/>
<rect x="514.21" y="254.40" width="8.55" height="70.10" fill="#018571" stroke="#000" stroke-width="0.9"/>
<rect x="372.65" y="186.00" width="151.65" height="138.50" fill="none" stroke="#333" stroke-width="1.0"/>
<line x1="378.60" x2="378.60" y1="324.50" y2="328.80" stroke="#000" stroke-width="1.7"/>
<text transform="translate(380.25,331.60) rotate(-90)" font-size="8.8" font-weight="normal" text-anchor="end" fill="#000" stroke="#000" stroke-width="0.5">N<tspan stroke-width="0.12" font-size="6.95" dy="2.3">½</tspan><tspan dy="-2.3" font-size="1">​</tspan></text>
<line x1="389.36" x2="389.36" y1="324.50" y2="328.80" stroke="#000" stroke-width="1.7"/>
<text transform="translate(391.01,331.60) rotate(-90)" font-size="8.8" font-weight="normal" text-anchor="end" fill="#000" stroke="#000" stroke-width="0.5">N<tspan stroke-width="0.12" font-size="6.95" dy="2.3">½</tspan><tspan dy="-2.3" font-size="1">​</tspan>K<tspan stroke-width="0.12" font-size="6.95" dy="2.3">½</tspan><tspan dy="-2.3" font-size="1">​</tspan></text>
<line x1="400.12" x2="400.12" y1="324.50" y2="328.80" stroke="#000" stroke-width="1.7"/>
<text transform="translate(401.77,331.60) rotate(-90)" font-size="8.8" font-weight="normal" text-anchor="end" fill="#000" stroke="#000" stroke-width="0.5">N<tspan stroke-width="0.12" font-size="6.95" dy="2.3">½</tspan><tspan dy="-2.3" font-size="1">​</tspan>P<tspan stroke-width="0.12" font-size="6.95" dy="2.3">½</tspan><tspan dy="-2.3" font-size="1">​</tspan></text>
<line x1="410.88" x2="410.88" y1="324.50" y2="328.80" stroke="#000" stroke-width="1.7"/>
<text transform="translate(412.53,331.60) rotate(-90)" font-size="8.8" font-weight="normal" text-anchor="end" fill="#000" stroke="#000" stroke-width="0.5">N<tspan stroke-width="0.12" font-size="6.95" dy="2.3">½</tspan><tspan dy="-2.3" font-size="1">​</tspan>P<tspan stroke-width="0.12" font-size="6.95" dy="2.3">½</tspan><tspan dy="-2.3" font-size="1">​</tspan>K<tspan stroke-width="0.12" font-size="6.95" dy="2.3">½</tspan><tspan dy="-2.3" font-size="1">​</tspan></text>
<line x1="421.64" x2="421.64" y1="324.50" y2="328.80" stroke="#000" stroke-width="1.7"/>
<text transform="translate(423.29,331.60) rotate(-90)" font-size="8.8" font-weight="normal" text-anchor="end" fill="#000" stroke="#000" stroke-width="0.5">N<tspan stroke-width="0.25" font-size="6.6" dy="1.6">1</tspan><tspan dy="-1.6" font-size="1">​</tspan></text>
<line x1="432.40" x2="432.40" y1="324.50" y2="328.80" stroke="#000" stroke-width="1.7"/>
<text transform="translate(434.05,331.60) rotate(-90)" font-size="8.8" font-weight="normal" text-anchor="end" fill="#000" stroke="#000" stroke-width="0.5">N<tspan stroke-width="0.25" font-size="6.6" dy="1.6">1</tspan><tspan dy="-1.6" font-size="1">​</tspan>K<tspan stroke-width="0.25" font-size="6.6" dy="1.6">1</tspan><tspan dy="-1.6" font-size="1">​</tspan></text>
<line x1="443.16" x2="443.16" y1="324.50" y2="328.80" stroke="#000" stroke-width="1.7"/>
<text transform="translate(444.81,331.60) rotate(-90)" font-size="8.8" font-weight="normal" text-anchor="end" fill="#000" stroke="#000" stroke-width="0.5">N<tspan stroke-width="0.25" font-size="6.6" dy="1.6">1</tspan><tspan dy="-1.6" font-size="1">​</tspan>P<tspan stroke-width="0.12" font-size="6.95" dy="2.3">½</tspan><tspan dy="-2.3" font-size="1">​</tspan>K<tspan stroke-width="0.12" font-size="6.95" dy="2.3">½</tspan><tspan dy="-2.3" font-size="1">​</tspan></text>
<line x1="453.92" x2="453.92" y1="324.50" y2="328.80" stroke="#000" stroke-width="1.7"/>
<text transform="translate(455.57,331.60) rotate(-90)" font-size="8.8" font-weight="normal" text-anchor="end" fill="#000" stroke="#000" stroke-width="0.5">N<tspan stroke-width="0.25" font-size="6.6" dy="1.6">1</tspan><tspan dy="-1.6" font-size="1">​</tspan>P<tspan stroke-width="0.25" font-size="6.6" dy="1.6">1</tspan><tspan dy="-1.6" font-size="1">​</tspan></text>
<line x1="464.68" x2="464.68" y1="324.50" y2="328.80" stroke="#000" stroke-width="1.7"/>
<text transform="translate(466.33,331.60) rotate(-90)" font-size="8.8" font-weight="normal" text-anchor="end" fill="#000" stroke="#000" stroke-width="0.5">N<tspan stroke-width="0.25" font-size="6.6" dy="1.6">1</tspan><tspan dy="-1.6" font-size="1">​</tspan>P<tspan stroke-width="0.25" font-size="6.6" dy="1.6">1</tspan><tspan dy="-1.6" font-size="1">​</tspan>K<tspan stroke-width="0.25" font-size="6.6" dy="1.6">1</tspan><tspan dy="-1.6" font-size="1">​</tspan></text>
<line x1="475.44" x2="475.44" y1="324.50" y2="328.80" stroke="#000" stroke-width="1.7"/>
<text transform="translate(477.09,331.60) rotate(-90)" font-size="8.8" font-weight="normal" text-anchor="end" fill="#000" stroke="#000" stroke-width="0.5">N<tspan stroke-width="0.25" font-size="6.6" dy="1.6">1</tspan><tspan dy="-1.6" font-size="1">​</tspan>P<tspan stroke-width="0.25" font-size="6.6" dy="1.6">2</tspan><tspan dy="-1.6" font-size="1">​</tspan>K<tspan stroke-width="0.25" font-size="6.6" dy="1.6">2</tspan><tspan dy="-1.6" font-size="1">​</tspan></text>
<line x1="486.20" x2="486.20" y1="324.50" y2="328.80" stroke="#000" stroke-width="1.7"/>
<text transform="translate(487.85,331.60) rotate(-90)" font-size="8.8" font-weight="normal" text-anchor="end" fill="#000" stroke="#000" stroke-width="0.5">M<tspan stroke-width="0.12" font-size="6.95" dy="2.3">½</tspan><tspan dy="-2.3" font-size="1">​</tspan></text>
<line x1="496.96" x2="496.96" y1="324.50" y2="328.80" stroke="#000" stroke-width="1.7"/>
<text transform="translate(498.61,331.60) rotate(-90)" font-size="8.8" font-weight="normal" text-anchor="end" fill="#000" stroke="#000" stroke-width="0.5">M<tspan stroke-width="0.12" font-size="6.95" dy="2.3">½</tspan><tspan dy="-2.3" font-size="1">​</tspan>P<tspan stroke-width="0.12" font-size="6.95" dy="2.3">½</tspan><tspan dy="-2.3" font-size="1">​</tspan></text>
<line x1="507.72" x2="507.72" y1="324.50" y2="328.80" stroke="#000" stroke-width="1.7"/>
<text transform="translate(509.37,331.60) rotate(-90)" font-size="8.8" font-weight="normal" text-anchor="end" fill="#000" stroke="#000" stroke-width="0.5">M<tspan stroke-width="0.25" font-size="6.6" dy="1.6">1</tspan><tspan dy="-1.6" font-size="1">​</tspan></text>
<line x1="518.48" x2="518.48" y1="324.50" y2="328.80" stroke="#000" stroke-width="1.7"/>
<text transform="translate(520.13,331.60) rotate(-90)" font-size="8.8" font-weight="normal" text-anchor="end" fill="#000" stroke="#000" stroke-width="0.5">M<tspan stroke-width="0.25" font-size="6.6" dy="1.6">1</tspan><tspan dy="-1.6" font-size="1">​</tspan>P<tspan stroke-width="0.25" font-size="6.6" dy="1.6">1</tspan><tspan dy="-1.6" font-size="1">​</tspan></text>
<text x="608.90" y="178.20" font-size="10.5" font-weight="bold" text-anchor="middle" fill="#000">Spring Wheat.2016</text>
<line x1="539.50" x2="539.50" y1="279.20" y2="276.60" stroke="#000" stroke-width="1.05"/>
<line x1="538.30" x2="540.70" y1="277.05" y2="277.05" stroke="#000" stroke-width="1.1"/>
<rect x="534.73" y="279.20" width="8.55" height="45.30" fill="#DFC27D" stroke="#000" stroke-width="0.9"/>
<line x1="549.50" x2="549.50" y1="280.20" y2="278.00" stroke="#000" stroke-width="1.05"/>
<line x1="548.30" x2="550.70" y1="278.45" y2="278.45" stroke="#000" stroke-width="1.1"/>
<rect x="545.49" y="280.20" width="8.55" height="44.30" fill="#DFC27D" stroke="#000" stroke-width="0.9"/>
<line x1="560.50" x2="560.50" y1="278.30" y2="276.30" stroke="#000" stroke-width="1.05"/>
<line x1="559.30" x2="561.70" y1="276.75" y2="276.75" stroke="#000" stroke-width="1.1"/>
<rect x="556.25" y="278.30" width="8.55" height="46.20" fill="#DFC27D" stroke="#000" stroke-width="0.9"/>
<line x1="571.50" x2="571.50" y1="280.60" y2="276.00" stroke="#000" stroke-width="1.05"/>
<line x1="570.30" x2="572.70" y1="276.45" y2="276.45" stroke="#000" stroke-width="1.1"/>
<rect x="567.00" y="280.60" width="8.55" height="43.90" fill="#DFC27D" stroke="#000" stroke-width="0.9"/>
<line x1="582.50" x2="582.50" y1="277.30" y2="273.60" stroke="#000" stroke-width="1.05"/>
<line x1="581.30" x2="583.70" y1="274.05" y2="274.05" stroke="#000" stroke-width="1.1"/>
<rect x="577.76" y="277.30" width="8.55" height="47.20" fill="#A6611A" stroke="#000" stroke-width="0.9"/>
<line x1="592.50" x2="592.50" y1="275.60" y2="270.80" stroke="#000" stroke-width="1.05"/>
<line x1="591.30" x2="593.70" y1="271.25" y2="271.25" stroke="#000" stroke-width="1.1"/>
<rect x="588.52" y="275.60" width="8.55" height="48.90" fill="#A6611A" stroke="#000" stroke-width="0.9"/>
<line x1="603.50" x2="603.50" y1="269.60" y2="268.40" stroke="#000" stroke-width="1.05"/>
<line x1="602.30" x2="604.70" y1="268.85" y2="268.85" stroke="#000" stroke-width="1.1"/>
<rect x="599.28" y="269.60" width="8.55" height="54.90" fill="#A6611A" stroke="#000" stroke-width="0.9"/>
<line x1="614.50" x2="614.50" y1="276.10" y2="274.40" stroke="#000" stroke-width="1.05"/>
<line x1="613.30" x2="615.70" y1="274.85" y2="274.85" stroke="#000" stroke-width="1.1"/>
<rect x="610.04" y="276.10" width="8.55" height="48.40" fill="#A6611A" stroke="#000" stroke-width="0.9"/>
<line x1="625.50" x2="625.50" y1="266.60" y2="263.30" stroke="#000" stroke-width="1.05"/>
<line x1="624.30" x2="626.70" y1="263.75" y2="263.75" stroke="#000" stroke-width="1.1"/>
<rect x="620.81" y="266.60" width="8.55" height="57.90" fill="#A6611A" stroke="#000" stroke-width="0.9"/>
<line x1="635.50" x2="635.50" y1="262.30" y2="260.30" stroke="#000" stroke-width="1.05"/>
<line x1="634.30" x2="636.70" y1="260.75" y2="260.75" stroke="#000" stroke-width="1.1"/>
<rect x="631.57" y="262.30" width="8.55" height="62.20" fill="#A6611A" stroke="#000" stroke-width="0.9"/>
<line x1="646.50" x2="646.50" y1="288.10" y2="285.50" stroke="#000" stroke-width="1.05"/>
<line x1="645.30" x2="647.70" y1="285.95" y2="285.95" stroke="#000" stroke-width="1.1"/>
<rect x="642.33" y="288.10" width="8.55" height="36.40" fill="#80CDC1" stroke="#000" stroke-width="0.9"/>
<line x1="657.50" x2="657.50" y1="284.80" y2="284.00" stroke="#000" stroke-width="1.05"/>
<line x1="656.30" x2="658.70" y1="284.45" y2="284.45" stroke="#000" stroke-width="1.1"/>
<rect x="653.09" y="284.80" width="8.55" height="39.70" fill="#80CDC1" stroke="#000" stroke-width="0.9"/>
<line x1="668.50" x2="668.50" y1="271.00" y2="268.40" stroke="#000" stroke-width="1.05"/>
<line x1="667.30" x2="669.70" y1="268.85" y2="268.85" stroke="#000" stroke-width="1.1"/>
<rect x="663.85" y="271.00" width="8.55" height="53.50" fill="#018571" stroke="#000" stroke-width="0.9"/>
<line x1="679.50" x2="679.50" y1="269.60" y2="265.70" stroke="#000" stroke-width="1.05"/>
<line x1="678.30" x2="680.70" y1="266.15" y2="266.15" stroke="#000" stroke-width="1.1"/>
<rect x="674.61" y="269.60" width="8.55" height="54.90" fill="#018571" stroke="#000" stroke-width="0.9"/>
<rect x="532.90" y="186.00" width="151.60" height="138.50" fill="none" stroke="#333" stroke-width="1.0"/>
<line x1="684.5" x2="684.5" y1="185.50" y2="325.00" stroke="#111" stroke-width="1"/>
<line x1="539.00" x2="539.00" y1="324.50" y2="328.80" stroke="#000" stroke-width="1.7"/>
<text transform="translate(540.65,331.60) rotate(-90)" font-size="8.8" font-weight="normal" text-anchor="end" fill="#000" stroke="#000" stroke-width="0.5">N<tspan stroke-width="0.12" font-size="6.95" dy="2.3">½</tspan><tspan dy="-2.3" font-size="1">​</tspan></text>
<line x1="549.76" x2="549.76" y1="324.50" y2="328.80" stroke="#000" stroke-width="1.7"/>
<text transform="translate(551.41,331.60) rotate(-90)" font-size="8.8" font-weight="normal" text-anchor="end" fill="#000" stroke="#000" stroke-width="0.5">N<tspan stroke-width="0.12" font-size="6.95" dy="2.3">½</tspan><tspan dy="-2.3" font-size="1">​</tspan>K<tspan stroke-width="0.12" font-size="6.95" dy="2.3">½</tspan><tspan dy="-2.3" font-size="1">​</tspan></text>
<line x1="560.52" x2="560.52" y1="324.50" y2="328.80" stroke="#000" stroke-width="1.7"/>
<text transform="translate(562.17,331.60) rotate(-90)" font-size="8.8" font-weight="normal" text-anchor="end" fill="#000" stroke="#000" stroke-width="0.5">N<tspan stroke-width="0.12" font-size="6.95" dy="2.3">½</tspan><tspan dy="-2.3" font-size="1">​</tspan>P<tspan stroke-width="0.12" font-size="6.95" dy="2.3">½</tspan><tspan dy="-2.3" font-size="1">​</tspan></text>
<line x1="571.28" x2="571.28" y1="324.50" y2="328.80" stroke="#000" stroke-width="1.7"/>
<text transform="translate(572.93,331.60) rotate(-90)" font-size="8.8" font-weight="normal" text-anchor="end" fill="#000" stroke="#000" stroke-width="0.5">N<tspan stroke-width="0.12" font-size="6.95" dy="2.3">½</tspan><tspan dy="-2.3" font-size="1">​</tspan>P<tspan stroke-width="0.12" font-size="6.95" dy="2.3">½</tspan><tspan dy="-2.3" font-size="1">​</tspan>K<tspan stroke-width="0.12" font-size="6.95" dy="2.3">½</tspan><tspan dy="-2.3" font-size="1">​</tspan></text>
<line x1="582.04" x2="582.04" y1="324.50" y2="328.80" stroke="#000" stroke-width="1.7"/>
<text transform="translate(583.69,331.60) rotate(-90)" font-size="8.8" font-weight="normal" text-anchor="end" fill="#000" stroke="#000" stroke-width="0.5">N<tspan stroke-width="0.25" font-size="6.6" dy="1.6">1</tspan><tspan dy="-1.6" font-size="1">​</tspan></text>
<line x1="592.80" x2="592.80" y1="324.50" y2="328.80" stroke="#000" stroke-width="1.7"/>
<text transform="translate(594.45,331.60) rotate(-90)" font-size="8.8" font-weight="normal" text-anchor="end" fill="#000" stroke="#000" stroke-width="0.5">N<tspan stroke-width="0.25" font-size="6.6" dy="1.6">1</tspan><tspan dy="-1.6" font-size="1">​</tspan>K<tspan stroke-width="0.25" font-size="6.6" dy="1.6">1</tspan><tspan dy="-1.6" font-size="1">​</tspan></text>
<line x1="603.56" x2="603.56" y1="324.50" y2="328.80" stroke="#000" stroke-width="1.7"/>
<text transform="translate(605.21,331.60) rotate(-90)" font-size="8.8" font-weight="normal" text-anchor="end" fill="#000" stroke="#000" stroke-width="0.5">N<tspan stroke-width="0.25" font-size="6.6" dy="1.6">1</tspan><tspan dy="-1.6" font-size="1">​</tspan>P<tspan stroke-width="0.12" font-size="6.95" dy="2.3">½</tspan><tspan dy="-2.3" font-size="1">​</tspan>K<tspan stroke-width="0.12" font-size="6.95" dy="2.3">½</tspan><tspan dy="-2.3" font-size="1">​</tspan></text>
<line x1="614.32" x2="614.32" y1="324.50" y2="328.80" stroke="#000" stroke-width="1.7"/>
<text transform="translate(615.97,331.60) rotate(-90)" font-size="8.8" font-weight="normal" text-anchor="end" fill="#000" stroke="#000" stroke-width="0.5">N<tspan stroke-width="0.25" font-size="6.6" dy="1.6">1</tspan><tspan dy="-1.6" font-size="1">​</tspan>P<tspan stroke-width="0.25" font-size="6.6" dy="1.6">1</tspan><tspan dy="-1.6" font-size="1">​</tspan></text>
<line x1="625.08" x2="625.08" y1="324.50" y2="328.80" stroke="#000" stroke-width="1.7"/>
<text transform="translate(626.73,331.60) rotate(-90)" font-size="8.8" font-weight="normal" text-anchor="end" fill="#000" stroke="#000" stroke-width="0.5">N<tspan stroke-width="0.25" font-size="6.6" dy="1.6">1</tspan><tspan dy="-1.6" font-size="1">​</tspan>P<tspan stroke-width="0.25" font-size="6.6" dy="1.6">1</tspan><tspan dy="-1.6" font-size="1">​</tspan>K<tspan stroke-width="0.25" font-size="6.6" dy="1.6">1</tspan><tspan dy="-1.6" font-size="1">​</tspan></text>
<line x1="635.84" x2="635.84" y1="324.50" y2="328.80" stroke="#000" stroke-width="1.7"/>
<text transform="translate(637.49,331.60) rotate(-90)" font-size="8.8" font-weight="normal" text-anchor="end" fill="#000" stroke="#000" stroke-width="0.5">N<tspan stroke-width="0.25" font-size="6.6" dy="1.6">1</tspan><tspan dy="-1.6" font-size="1">​</tspan>P<tspan stroke-width="0.25" font-size="6.6" dy="1.6">2</tspan><tspan dy="-1.6" font-size="1">​</tspan>K<tspan stroke-width="0.25" font-size="6.6" dy="1.6">2</tspan><tspan dy="-1.6" font-size="1">​</tspan></text>
<line x1="646.60" x2="646.60" y1="324.50" y2="328.80" stroke="#000" stroke-width="1.7"/>
<text transform="translate(648.25,331.60) rotate(-90)" font-size="8.8" font-weight="normal" text-anchor="end" fill="#000" stroke="#000" stroke-width="0.5">M<tspan stroke-width="0.12" font-size="6.95" dy="2.3">½</tspan><tspan dy="-2.3" font-size="1">​</tspan></text>
<line x1="657.36" x2="657.36" y1="324.50" y2="328.80" stroke="#000" stroke-width="1.7"/>
<text transform="translate(659.01,331.60) rotate(-90)" font-size="8.8" font-weight="normal" text-anchor="end" fill="#000" stroke="#000" stroke-width="0.5">M<tspan stroke-width="0.12" font-size="6.95" dy="2.3">½</tspan><tspan dy="-2.3" font-size="1">​</tspan>P<tspan stroke-width="0.12" font-size="6.95" dy="2.3">½</tspan><tspan dy="-2.3" font-size="1">​</tspan></text>
<line x1="668.12" x2="668.12" y1="324.50" y2="328.80" stroke="#000" stroke-width="1.7"/>
<text transform="translate(669.77,331.60) rotate(-90)" font-size="8.8" font-weight="normal" text-anchor="end" fill="#000" stroke="#000" stroke-width="0.5">M<tspan stroke-width="0.25" font-size="6.6" dy="1.6">1</tspan><tspan dy="-1.6" font-size="1">​</tspan></text>
<line x1="678.88" x2="678.88" y1="324.50" y2="328.80" stroke="#000" stroke-width="1.7"/>
<text transform="translate(680.53,331.60) rotate(-90)" font-size="8.8" font-weight="normal" text-anchor="end" fill="#000" stroke="#000" stroke-width="0.5">M<tspan stroke-width="0.25" font-size="6.6" dy="1.6">1</tspan><tspan dy="-1.6" font-size="1">​</tspan>P<tspan stroke-width="0.25" font-size="6.6" dy="1.6">1</tspan><tspan dy="-1.6" font-size="1">​</tspan></text>
<text x="368.70" y="381.35" font-size="10.4" text-anchor="middle" fill="#000" stroke="#000" stroke-width="0.3">Treatment</text>
<text transform="translate(11.30,227.35) rotate(-90)" font-size="10.3" text-anchor="start" fill="#000" stroke="#000" stroke-width="0.3">Mean DM Yield (kg ha<tspan font-size="8.5" dy="-5.3">−1</tspan><tspan dy="5.3">)</tspan></text>
</svg>
</body></html>
